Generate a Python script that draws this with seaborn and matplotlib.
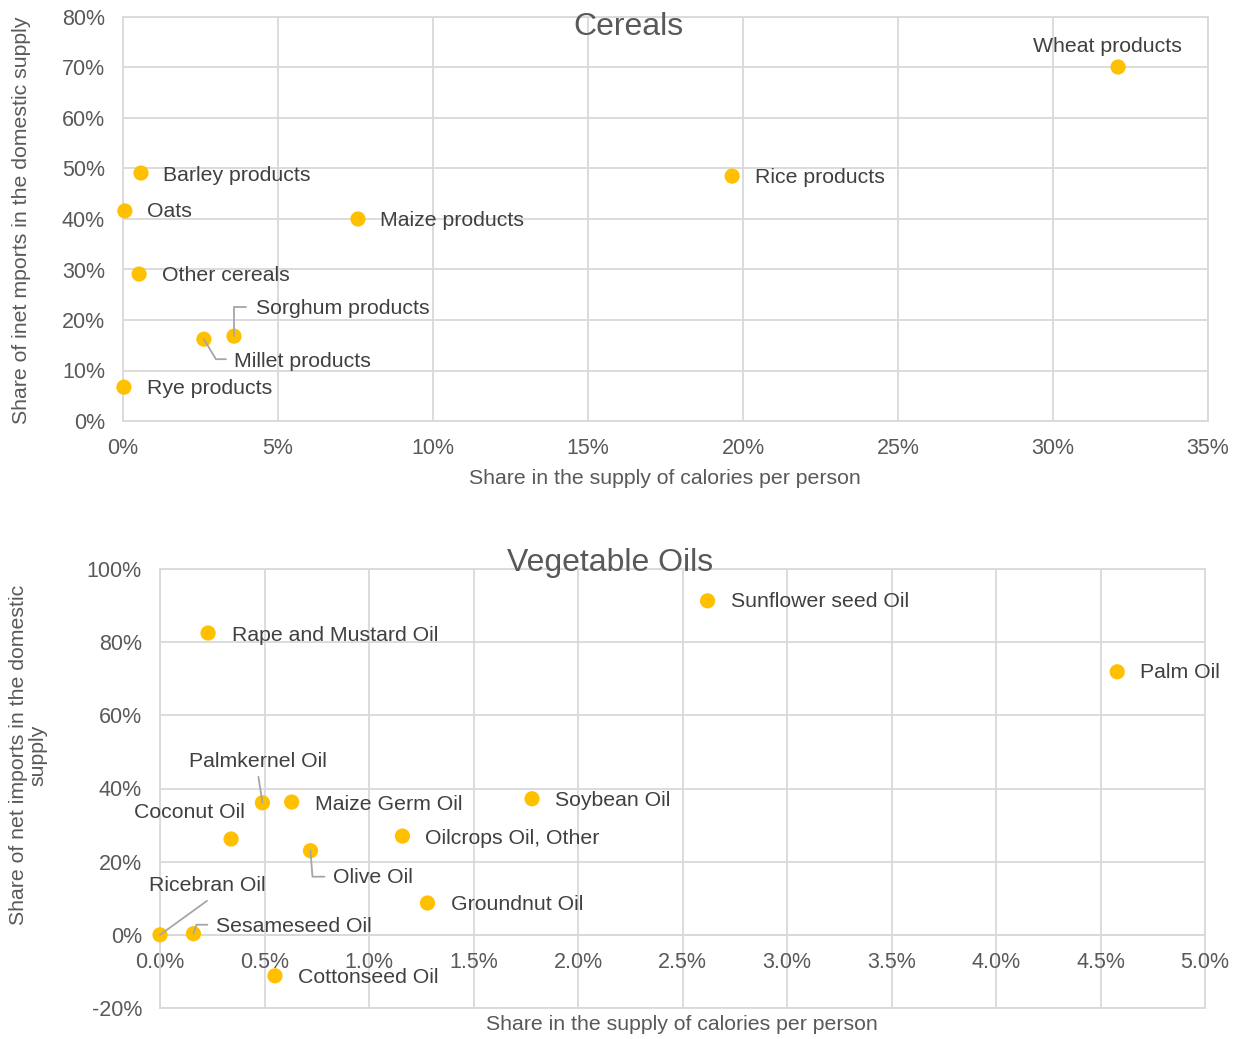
import numpy as np
import pandas as pd
import matplotlib
matplotlib.use("Agg")
import matplotlib.pyplot as plt
from matplotlib.ticker import PercentFormatter, MultipleLocator
from matplotlib.lines import Line2D
from matplotlib.transforms import IdentityTransform
import seaborn as sns

# ---- Cereals ----
cereal_names = ["Wheat products", "Rice products", "Barley products", "Oats",
                "Maize products", "Other cereals", "Sorghum products",
                "Millet products", "Rye products"]
cereal_cal_share = [0.321, 0.1965, 0.0058, 0.0006, 0.0758, 0.0052, 0.0358, 0.0261, 0.0003]
cereal_import_share = [0.701, 0.485, 0.491, 0.416, 0.400, 0.291, 0.168, 0.162, 0.067]

# ---- Vegetable oils ----
oil_names = ["Sunflower seed Oil", "Palm Oil", "Rape and Mustard Oil", "Palmkernel Oil",
             "Maize Germ Oil", "Soybean Oil", "Coconut Oil", "Oilcrops Oil, Other",
             "Olive Oil", "Groundnut Oil", "Ricebran Oil", "Sesameseed Oil",
             "Cottonseed Oil"]
oil_cal_share = [0.0262, 0.0458, 0.0023, 0.0049, 0.0063, 0.0178, 0.0034, 0.0116,
                 0.0072, 0.0128, 0.0000, 0.0016, 0.0055]
oil_import_share = [0.913, 0.719, 0.825, 0.361, 0.363, 0.372, 0.262, 0.270,
                    0.230, 0.087, 0.000, 0.003, -0.112]

GOLD = "#FFC000"
GRID = "#d9d9d9"
TICK = "#595959"
LABEL = "#404040"
LEADER = "#a6a6a6"

FS_TICK = 15.5
FS_LABEL = 15.3
FS_TITLE = 23

sns.set_style("white")
plt.rcParams["font.family"] = ["Liberation Sans", "DejaVu Sans"]
plt.rcParams["axes.unicode_minus"] = False

fig = plt.figure(figsize=(12.37, 10.39), dpi=100)
W, H = 1237, 1039


def axes_px(left, top, right, bottom):
    return fig.add_axes([left / W, 1 - bottom / H, (right - left) / W, (bottom - top) / H])


ax1 = axes_px(123, 17, 1208, 421)
ax2 = axes_px(160, 569, 1205, 1008)

df_c = pd.DataFrame({"name": cereal_names, "cal": cereal_cal_share, "imp": cereal_import_share})
df_o = pd.DataFrame({"name": oil_names, "cal": oil_cal_share, "imp": oil_import_share})

for ax, df in ((ax1, df_c), (ax2, df_o)):
    sns.scatterplot(data=df, x="cal", y="imp", ax=ax, color=GOLD, s=120,
                    edgecolor="none", zorder=4, clip_on=False, legend=False)

# axis ranges and ticks
ax1.set_xlim(0, 0.35)
ax1.set_ylim(0, 0.80)
ax1.xaxis.set_major_locator(MultipleLocator(0.05))
ax1.yaxis.set_major_locator(MultipleLocator(0.10))
ax1.xaxis.set_major_formatter(PercentFormatter(1, decimals=0))
ax1.yaxis.set_major_formatter(PercentFormatter(1, decimals=0))

ax2.set_xlim(0, 0.05)
ax2.set_ylim(-0.20, 1.00)
ax2.xaxis.set_major_locator(MultipleLocator(0.005))
ax2.yaxis.set_major_locator(MultipleLocator(0.20))
ax2.xaxis.set_major_formatter(PercentFormatter(1, decimals=1))
ax2.yaxis.set_major_formatter(PercentFormatter(1, decimals=0))
ax2.spines["bottom"].set_position(("data", 0))

for ax in (ax1, ax2):
    ax.grid(True, color=GRID, linewidth=1.3, zorder=0)
    ax.set_axisbelow(True)
    for side in ("top", "right"):
        ax.spines[side].set_visible(False)
    for side in ("left", "bottom"):
        ax.spines[side].set_color(GRID)
        ax.spines[side].set_linewidth(1.3)
    ax.tick_params(axis="both", length=0, labelsize=FS_TICK, colors=TICK)
    ax.tick_params(axis="y", pad=13)
    ax.tick_params(axis="x", pad=12)
    ax.set_xlabel("")
    ax.set_ylabel("")

# outer frame lines (top/right, and the oil chart's bottom edge)
ax2.axhline(-0.20, color=GRID, lw=1.3, zorder=0, clip_on=False)
ax2.axhline(1.00, color=GRID, lw=1.3, zorder=0, clip_on=False)
ax2.axvline(0.05, color=GRID, lw=1.3, zorder=0, clip_on=False)
ax1.axhline(0.80, color=GRID, lw=1.3, zorder=0, clip_on=False)
ax1.axvline(0.35, color=GRID, lw=1.3, zorder=0, clip_on=False)

# data label placement: (dx, dy) in pixels, horizontal alignment
cereal_offsets = {
    "Wheat products": (-11, 20, "center"),
    "Rice products": (23, -1, "left"),
    "Barley products": (22, -2, "left"),
    "Oats": (22, -1, "left"),
    "Maize products": (22, -1, "left"),
    "Other cereals": (23, -1, "left"),
    "Sorghum products": (22, 28, "left"),
    "Millet products": (30, -22, "left"),
    "Rye products": (23, -1, "left"),
}
oil_offsets = {
    "Sunflower seed Oil": (23, -1, "left"),
    "Palm Oil": (23, -1, "left"),
    "Rape and Mustard Oil": (24, -2, "left"),
    "Palmkernel Oil": (-4, 41, "center"),
    "Maize Germ Oil": (23, -2, "left"),
    "Soybean Oil": (23, -2, "left"),
    "Coconut Oil": (14, 26, "right"),
    "Oilcrops Oil, Other": (23, -2, "left"),
    "Olive Oil": (23, -27, "left"),
    "Groundnut Oil": (23, -1, "left"),
    "Ricebran Oil": (47, 49, "center"),
    "Sesameseed Oil": (23, 7, "left"),
    "Cottonseed Oil": (23, -2, "left"),
}

leaders = {
    "Sorghum products": [(0, 0), (0, 29), (12, 29)],
    "Millet products": [(0, 0), (12, -20), (22, -20)],
    "Palmkernel Oil": [(0, 0), (-4, 26)],
    "Olive Oil": [(0, 0), (2, -26), (14, -26)],
    "Ricebran Oil": [(0, 0), (47, 34)],
    "Sesameseed Oil": [(0, 0), (3, 9), (14, 9)],
}


def add_labels(ax, df, offsets):
    for _, row in df.iterrows():
        dx, dy, ha = offsets[row["name"]]
        ax.annotate(row["name"], (row["cal"], row["imp"]), xytext=(dx, dy),
                    textcoords="offset pixels", ha=ha, va="center",
                    fontsize=FS_LABEL, color=LABEL, zorder=5, annotation_clip=False)
        if row["name"] in leaders:
            px, py = ax.transData.transform((row["cal"], row["imp"]))
            pts = leaders[row["name"]]
            line = Line2D([px + p[0] for p in pts], [py + p[1] for p in pts],
                          transform=IdentityTransform(), color=LEADER, lw=1.3,
                          zorder=3, clip_on=False)
            fig.add_artist(line)


add_labels(ax1, df_c, cereal_offsets)
add_labels(ax2, df_o, oil_offsets)

# titles and axis titles
fig.text(628 / W, 1 - 27 / H, "Cereals", ha="center", va="center", fontsize=FS_TITLE, color=TICK)
fig.text(610 / W, 1 - 563 / H, "Vegetable Oils", ha="center", va="center", fontsize=FS_TITLE, color=TICK)
fig.text(665 / W, 1 - 479 / H, "Share in the supply of calories per person",
         ha="center", va="center", fontsize=FS_LABEL, color=TICK)
fig.text(682 / W, 1 - 1025 / H, "Share in the supply of calories per person",
         ha="center", va="center", fontsize=FS_LABEL, color=TICK)
fig.text(22 / W, 1 - 220 / H, "Share of inet mports in the domestic supply",
         ha="center", va="center", rotation=90, fontsize=FS_LABEL, color=TICK)
fig.text(28 / W, 1 - 755 / H, "Share of net imports in the domestic\nsupply",
         ha="center", va="center", rotation=90, fontsize=FS_LABEL, color=TICK,
         multialignment="center", linespacing=1.0)

fig.savefig("out.png", dpi=100)
